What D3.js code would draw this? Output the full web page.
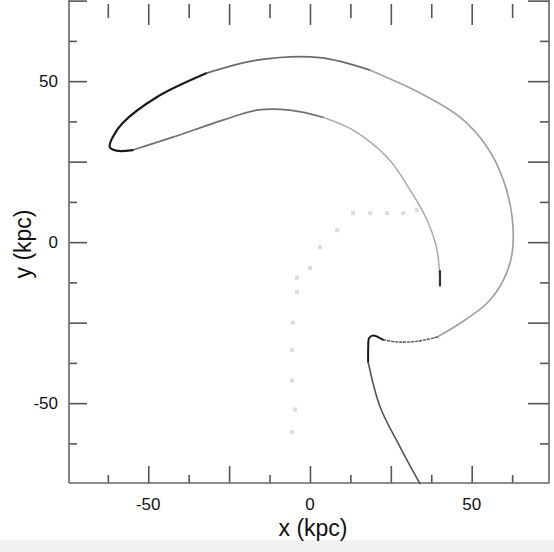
<!DOCTYPE html>
<html>
<head>
<meta charset="utf-8">
<script src="https://cdn.jsdelivr.net/npm/d3@7"></script>
<style>
  body { margin: 0; background: #fff; }
  svg { display: block; }
</style>
</head>
<body>
<div id="chart"></div>
<script>
// Axis ticks (kpc)
const majorTicks = [-75, -50, -25, 0, 25, 50, 75];
const minorTicks = [-62.5, -37.5, -12.5, 12.5, 37.5, 62.5];
const labelTicks = [-50, 0, 50];

// Tidal stream as [x, y] in kpc
const innerArmRight = [[40.2, -12.7], [39.3, -2.5], [36.2, 6.8], [31, 16.1], [23.8, 26.4], [13.3, 34.8], [4, 38.8]];
const innerArmTop = [[4, 38.8], [-6.2, 41], [-16.4, 41], [-26.9, 37.9], [-42.4, 32.6], [-54.8, 28.6]];
const leftHook = [[-54.8, 28.6], [-59.8, 28.4], [-61.9, 29.5], [-61, 32.6], [-57.9, 37], [-47.4, 45], [-31.9, 52.5]];
const outerArmTop = [[-31.9, 52.5], [-16.4, 56.5], [3, 57.3], [18.6, 53.4]];
const outerArmRight = [[18.6, 53.4], [34.1, 46.3], [46.4, 38.8], [54.8, 29.5], [59.8, 19.3], [62.5, 7.8],
  [62.5, -3.4], [59.8, -11.8], [54.8, -18.9], [46.4, -25.2], [39.3, -29.5]];
const trailingDots = [[39.3, -29.5], [33, -30.8], [27, -31], [22.5, -30.3]];
const lowerHook = [[22.5, -30.3], [19.5, -29], [18.3, -29.8], [18, -33], [18, -37.3]];
const tailArm = [[18, -37.3], [21.7, -51.2], [27.9, -63.7], [34, -75]];
const streamEnd = [[40.2, -9], [40.2, -13.5]];

// Faint particles near the centre
const coreDots = [[33, 10], [28.8, 9], [23.8, 9], [18.6, 9], [13.3, 9], [8.4, 3.7], [3.1, -1.6], [0, -8],
  [-4, -11], [-4, -15.5], [-5.3, -25], [-5.6, -33.5], [-5.6, -43], [-4.6, -52], [-5.6, -59]];

const width = 554;
const height = 552;

const svg = d3.select('#chart')
  .append('svg')
  .attr('width', width)
  .attr('height', height)
  .style('font-family', '"Liberation Sans", Arial, Helvetica, sans-serif');

svg.append('rect')
  .attr('x', 0).attr('y', 540)
  .attr('width', width).attr('height', 12)
  .attr('fill', '#f1f1f1');

const x = d3.scaleLinear().domain([-74.5, 73.9]).range([69, 549]);
const y = d3.scaleLinear().domain([-74.8, 75.2]).range([483, 0]);

const inX = (v) => v >= -74.5 && v <= 73.9;
const inY = (v) => v >= -74.8 && v <= 75.2;

// Ticks: minor + major on all four sides, pointing inwards
function ticks(axisFn, scale, values, size, transform) {
  const g = svg.append('g')
    .attr('transform', transform)
    .call(axisFn(scale).tickValues(values).tickSize(-size).tickFormat(''));
  g.select('.domain').remove();
  g.selectAll('line').attr('stroke', '#555').attr('stroke-width', 1.6);
}

ticks(d3.axisBottom, x, minorTicks.filter(inX), 8, `translate(0,${y.range()[0]})`);
ticks(d3.axisBottom, x, majorTicks.filter(inX), 17, `translate(0,${y.range()[0]})`);
ticks(d3.axisTop, x, minorTicks.filter(inX), 14, 'translate(0,4)');
ticks(d3.axisTop, x, majorTicks.filter(inX), 21, 'translate(0,4)');
ticks(d3.axisLeft, y, minorTicks.filter(inY), 8, `translate(${x.range()[0]},0)`);
ticks(d3.axisLeft, y, majorTicks.filter(inY), 18, `translate(${x.range()[0]},0)`);
ticks(d3.axisRight, y, minorTicks.filter(inY), 9, `translate(${x.range()[1]},0)`);
ticks(d3.axisRight, y, majorTicks.filter(inY), 21, `translate(${x.range()[1]},0)`);

// Axis lines (left, bottom, right)
const frame = svg.append('g')
  .attr('fill', 'none')
  .attr('stroke', '#666')
  .attr('stroke-width', 1.6);
frame.append('line')
  .attr('x1', x.range()[0]).attr('x2', x.range()[0])
  .attr('y1', 0).attr('y2', y.range()[0]);
frame.append('line')
  .attr('x1', x.range()[0]).attr('x2', x.range()[1])
  .attr('y1', y.range()[0]).attr('y2', y.range()[0]);
frame.append('line')
  .attr('x1', x.range()[1]).attr('x2', x.range()[1])
  .attr('y1', 0).attr('y2', y.range()[0]);

// Tick labels
const labelStyle = (sel) => sel
  .attr('font-size', 17)
  .attr('fill', '#111');

svg.append('g')
  .selectAll('text')
  .data(labelTicks)
  .join('text')
  .attr('x', (d) => x(d))
  .attr('y', 510)
  .attr('text-anchor', 'middle')
  .text((d) => String(d))
  .call(labelStyle);

svg.append('g')
  .selectAll('text')
  .data(labelTicks)
  .join('text')
  .attr('x', 58)
  .attr('y', (d) => y(d) + 6)
  .attr('text-anchor', 'end')
  .text((d) => String(d))
  .call(labelStyle);

// Axis titles
svg.append('text')
  .attr('x', 313)
  .attr('y', 536)
  .attr('text-anchor', 'middle')
  .attr('font-size', 23)
  .attr('fill', '#111')
  .text('x (kpc)');

svg.append('text')
  .attr('transform', 'translate(31,244) rotate(-90)')
  .attr('text-anchor', 'middle')
  .attr('font-size', 23)
  .attr('fill', '#111')
  .text('y (kpc)');

// Stream
const plot = svg.append('g');

plot.selectAll('rect.core')
  .data(coreDots)
  .join('rect')
  .attr('class', 'core')
  .attr('x', (d) => x(d[0]) - 2)
  .attr('y', (d) => y(d[1]) - 2)
  .attr('width', 4)
  .attr('height', 4)
  .attr('fill', '#dcdcdc');

const line = d3.line()
  .x((d) => x(d[0]))
  .y((d) => y(d[1]))
  .curve(d3.curveCatmullRom.alpha(0.5));

const arms = [
  { points: innerArmRight, color: '#a8a8a8', width: 1.6, dash: '2,1.5' },
  { points: innerArmTop, color: '#707070', width: 1.7, dash: null },
  { points: leftHook, color: '#1a1a1a', width: 2.2, dash: null },
  { points: outerArmTop, color: '#6a6a6a', width: 1.8, dash: null },
  { points: outerArmRight, color: '#a0a0a0', width: 1.7, dash: null },
  { points: trailingDots, color: '#666', width: 1.6, dash: '2,2' },
  { points: lowerHook, color: '#1a1a1a', width: 2, dash: null },
  { points: tailArm, color: '#555', width: 1.6, dash: null },
  { points: streamEnd, color: '#333', width: 2.2, dash: null }
];

plot.selectAll('path.arm')
  .data(arms)
  .join('path')
  .attr('class', 'arm')
  .attr('d', (d) => line(d.points))
  .attr('fill', 'none')
  .attr('stroke', (d) => d.color)
  .attr('stroke-width', (d) => d.width)
  .attr('stroke-dasharray', (d) => d.dash)
  .attr('stroke-linecap', 'round');
</script>
</body>
</html>
